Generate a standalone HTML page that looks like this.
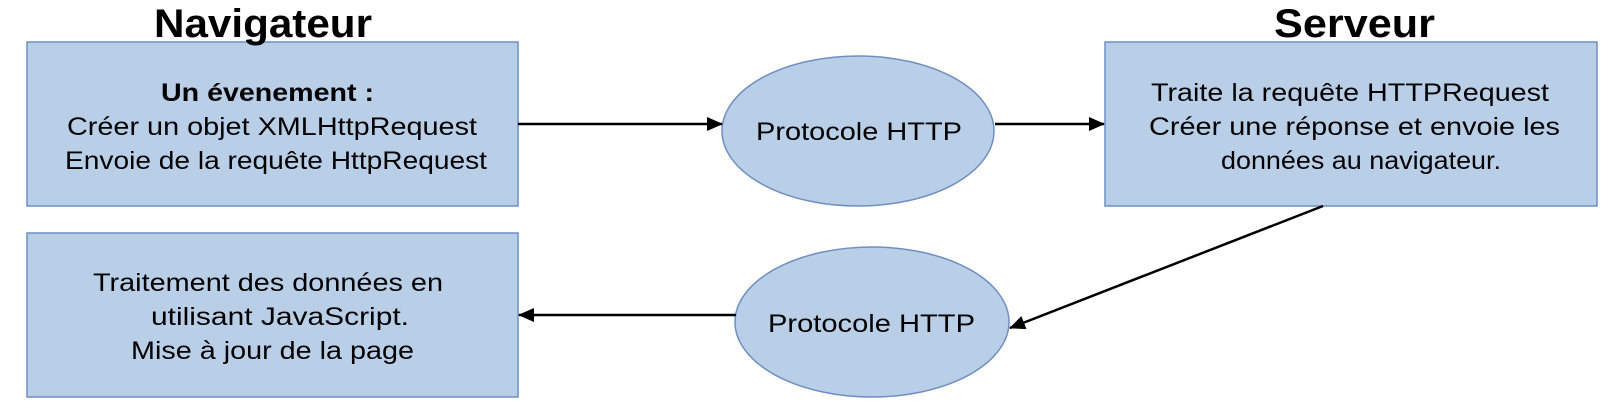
<!DOCTYPE html>
<html><head><meta charset="utf-8"><style>body{margin:0;background:#fff}svg{display:block}</style></head>
<body>
<svg width="1610" height="409" viewBox="0 0 1610 409" xmlns="http://www.w3.org/2000/svg" font-family="Liberation Sans, Arial, sans-serif">
<defs>
<marker id="b" markerWidth="16" markerHeight="14" refX="15" refY="7" orient="auto" markerUnits="userSpaceOnUse"><path d="M0,0 L16,7 L0,14 z" fill="#000"/></marker></defs>
<g fill="#b9cfe8" stroke="#6f8fc2" stroke-width="1.5">
<rect x="27" y="42" width="491" height="164"/>
<rect x="27" y="233" width="491" height="164"/>
<rect x="1105" y="42" width="492" height="164"/>
<ellipse cx="858" cy="131" rx="136" ry="75"/>
<ellipse cx="872" cy="322" rx="137" ry="75"/>
</g>
<g stroke="#000" stroke-width="2.5" fill="none">
<line x1="518" y1="124" x2="722" y2="124" marker-end="url(#b)"/>
<line x1="995" y1="124" x2="1104" y2="124" marker-end="url(#b)"/>
<line x1="1323" y1="206" x2="1010" y2="328" marker-end="url(#b)"/>
<line x1="736" y1="315" x2="519" y2="315" marker-end="url(#b)"/>
</g>
<g fill="#000" font-size="25">
<text x="154" y="37" font-size="40" font-weight="bold" textLength="218" lengthAdjust="spacingAndGlyphs">Navigateur</text>
<text x="1274" y="37" font-size="40" font-weight="bold" textLength="161" lengthAdjust="spacingAndGlyphs">Serveur</text>
<text x="161" y="101" font-weight="bold" textLength="213" lengthAdjust="spacingAndGlyphs">Un évenement :</text>
<text x="67" y="135" textLength="410" lengthAdjust="spacingAndGlyphs">Créer un objet XMLHttpRequest</text>
<text x="65" y="169" textLength="422" lengthAdjust="spacingAndGlyphs">Envoie de la requête HttpRequest</text>
<text x="93" y="291" textLength="350" lengthAdjust="spacingAndGlyphs">Traitement des données en</text>
<text x="151" y="325" textLength="258" lengthAdjust="spacingAndGlyphs">utilisant JavaScript.</text>
<text x="131" y="359" textLength="283" lengthAdjust="spacingAndGlyphs">Mise à jour de la page</text>
<text x="1151" y="101" textLength="398" lengthAdjust="spacingAndGlyphs">Traite la requête HTTPRequest</text>
<text x="1149" y="135" textLength="411" lengthAdjust="spacingAndGlyphs">Créer une réponse et envoie les</text>
<text x="1221" y="169" textLength="280" lengthAdjust="spacingAndGlyphs">données au navigateur.</text>
<text x="756" y="140" textLength="206" lengthAdjust="spacingAndGlyphs">Protocole HTTP</text>
<text x="768" y="332" textLength="207" lengthAdjust="spacingAndGlyphs">Protocole HTTP</text>
</g>
</svg>
</body></html>
